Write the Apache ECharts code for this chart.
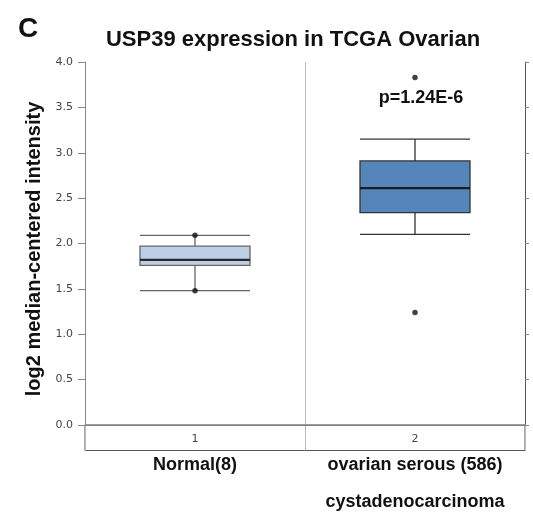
<!DOCTYPE html>
<html>
<head>
<meta charset="utf-8">
<script src="https://cdn.jsdelivr.net/npm/echarts@6/dist/echarts.min.js"></script>
<style>
  html, body { margin: 0; padding: 0; background: #fff; }
  #chart { width: 533px; height: 517px; }
</style>
</head>
<body>
<div id="chart"></div>
<script>
// groups on the x axis and their names under the plot
const groups = ['1', '2']
const groupNames = ['Normal(8)', 'ovarian serous (586)\ncystadenocarcinoma']
// [lower whisker, Q1, median, Q3, upper whisker]
const boxStats = [
  [1.48, 1.76, 1.82, 1.97, 2.09],
  [2.10, 2.34, 2.61, 2.91, 3.15]
]
const boxFills = ['#bccfe6', '#5585b9']
const boxBorders = ['#666', '#333']
// single points drawn as dots
const pointGroups = ['1', '1', '2', '2']
const pointValues = [2.09, 1.48, 3.83, 1.24]
const pValue = 'p=1.24E-6'
const yMin = 0, yMax = 4, yStep = 0.5

const chart = echarts.init(document.getElementById('chart'))
const boldFont = 'Liberation Sans, Arial, sans-serif'

chart.setOption({
  animation: false,
  title: [
    { text: 'C', left: 13, top: 10, textStyle: { fontFamily: boldFont, fontSize: 28, fontWeight: 'bold', color: '#111' } },
    { text: 'USP39 expression in TCGA Ovarian', left: 288, top: 24, textAlign: 'center',
      textStyle: { fontFamily: boldFont, fontSize: 22, fontWeight: 'bold', color: '#111' } },
    { text: pValue, left: 416, top: 84, textAlign: 'center',
      textStyle: { fontFamily: boldFont, fontSize: 18, fontWeight: 'bold', color: '#111' } }
  ],
  grid: [
    { left: 85, right: 8, top: 62, bottom: 92, outerBoundsMode: 'none', containLabel: false },
    { left: 85, right: 8, top: 425, bottom: 66.5, outerBoundsMode: 'none', containLabel: false,
      show: true, borderColor: '#555', borderWidth: 1 }
  ],
  xAxis: [
    { type: 'category', gridIndex: 0, data: groups, position: 'bottom',
      axisLine: { lineStyle: { color: '#333', width: 1.2 } }, axisTick: { show: false }, axisLabel: { show: false },
      splitLine: { show: true, lineStyle: { color: '#bbb' } } },
    { type: 'category', gridIndex: 0, data: groups, position: 'top',
      axisLine: { lineStyle: { color: '#999', width: 1.5 } }, axisTick: { show: false }, axisLabel: { show: false } },
    { type: 'category', gridIndex: 1, data: groups, position: 'top',
      axisLine: { show: false }, axisTick: { show: false },
      axisLabel: { inside: true, margin: 9, fontFamily: 'DejaVu Sans', fontSize: 11, color: '#444' } },
    { type: 'category', gridIndex: 1, data: groupNames, position: 'bottom',
      axisLine: { show: false }, axisTick: { show: false },
      splitLine: { show: true, lineStyle: { color: '#bbb' } },
      axisLabel: { interval: 0, hideOverlap: false, margin: -4, fontFamily: boldFont, fontSize: 18, fontWeight: 'bold',
        color: '#111', lineHeight: 37 } }
  ],
  yAxis: [
    { type: 'value', gridIndex: 0, min: yMin, max: yMax, interval: yStep,
      name: 'log2 median-centered intensity', nameLocation: 'middle', nameGap: 41,
      nameTextStyle: { fontFamily: boldFont, fontSize: 20, fontWeight: 'bold', color: '#111', padding: [0, 11, 0, 0] },
      axisLine: { show: true, lineStyle: { color: '#888' } },
      axisTick: { show: true, length: 7, lineStyle: { color: '#888' } },
      axisLabel: { margin: 12, fontFamily: 'DejaVu Sans', fontSize: 11, color: '#444', formatter: v => v.toFixed(1) },
      splitLine: { show: false } },
    { type: 'value', gridIndex: 0, min: yMin, max: yMax, interval: yStep, position: 'right',
      axisLine: { show: true, lineStyle: { color: '#555' } },
      axisTick: { show: true, length: 4, lineStyle: { color: '#888' } },
      axisLabel: { show: false }, splitLine: { show: false } },
    { type: 'value', gridIndex: 1, min: 0, max: 1, show: false }
  ],
  series: [
    {
      type: 'boxplot', xAxisIndex: 0, yAxisIndex: 0,
      boxWidth: ['50%', '50%'],
      data: boxStats.map((s, i) => ({
        value: s,
        itemStyle: { color: boxFills[i], borderColor: boxBorders[i], borderWidth: 1.3 }
      }))
    },
    {
      // thick black median bars over the boxes
      type: 'scatter', xAxisIndex: 0, yAxisIndex: 0,
      symbol: 'rect', symbolSize: [110, 2.2],
      itemStyle: { color: '#111' },
      data: boxStats.map((s, i) => [groups[i], s[2]])
    },
    {
      type: 'scatter', xAxisIndex: 0, yAxisIndex: 0,
      symbol: 'circle', symbolSize: 5.5,
      itemStyle: { color: '#111' },
      data: pointValues.map((v, i) => [pointGroups[i], v])
    }
  ]
})
</script>
</body>
</html>
